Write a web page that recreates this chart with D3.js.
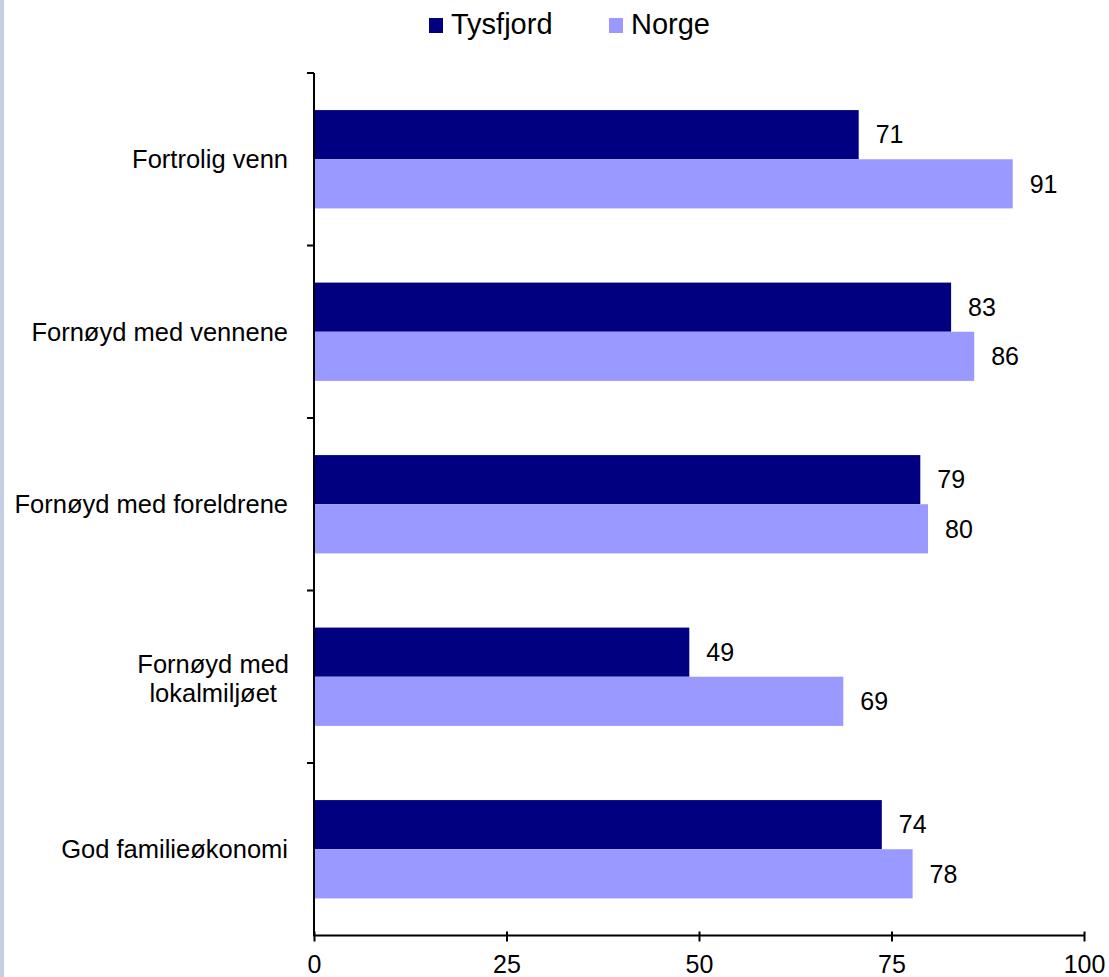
<!DOCTYPE html>
<html><head><meta charset="utf-8">
<script src="https://cdn.jsdelivr.net/npm/d3@7"></script>
<style>
html,body{margin:0;padding:0;background:#fff;}
svg text{font-family:"Liberation Sans",Arial,sans-serif;fill:#000;}
</style></head>
<body>
<svg id="chart" width="1109" height="977"></svg>
<script>
const categories = ["Fortrolig venn", "Fornøyd med vennene", "Fornøyd med foreldrene", "Fornøyd med\nlokalmiljøet", "God familieøkonomi"];
const seriesNames = ["Tysfjord", "Norge"];
const tysfjord = [71, 83, 79, 49, 74];
const norge = [91, 86, 80, 69, 78];
const xTicks = [0, 25, 50, 75, 100];
const colors = ["#000080", "#9999ff"];

const svg = d3.select("#chart");
svg.append("rect").attr("x",0).attr("y",0).attr("width",4).attr("height",977).attr("fill","#c3cfe2");

const x0 = 314, x1 = 1084, yTop = 73, yBot = 935.5;
const x = d3.scaleLinear().domain([0,100]).range([x0,x1]);
const y = d3.scaleBand().domain(categories).range([yTop,yBot]).paddingInner(0.43).paddingOuter(0.215);
const ySub = d3.scaleBand().domain(seriesNames).range([0,y.bandwidth()]);

const data = categories.map((c,i)=>({cat:c, vals:[{s:"Tysfjord",v:tysfjord[i]},{s:"Norge",v:norge[i]}]}));

const g = svg.append("g");
const grp = g.selectAll("g.cat").data(data).join("g").attr("transform",d=>`translate(0,${y(d.cat)})`);
grp.selectAll("rect").data(d=>d.vals).join("rect")
  .attr("x",x(0)+1).attr("y",d=>ySub(d.s)).attr("height",ySub.bandwidth())
  .attr("width",d=>x(d.v)-x(0)-3).attr("fill",(d,i)=>colors[i]);
grp.selectAll("text.val").data(d=>d.vals).join("text").attr("class","val")
  .attr("x",d=>x(d.v)+15).attr("y",d=>ySub(d.s)+ySub.bandwidth()/2)
  .attr("dy","0.35em").attr("font-size",25).text(d=>d.v);

// Y axis
g.append("line").attr("x1",x0).attr("x2",x0).attr("y1",yTop).attr("y2",yBot).attr("stroke","#000").attr("stroke-width",2);
const yTickPos = d3.range(categories.length+1).map(i=>yTop + i*y.step());
g.selectAll("line.yt").data(yTickPos.slice(0,-1)).join("line").attr("class","yt")
  .attr("x1",x0-7).attr("x2",x0).attr("y1",d=>d).attr("y2",d=>d).attr("stroke","#000").attr("stroke-width",2);

// category labels
categories.forEach(c=>{
  const cy = y(c)+y.bandwidth()/2;
  const lines = c.split("\n");
  if(lines.length===1){
    g.append("text").attr("x",288).attr("y",cy).attr("dy","0.35em").attr("text-anchor","end").attr("font-size",25.5).text(c);
  } else {
    const t1 = g.append("text").attr("font-size",25.5).attr("text-anchor","middle").text(lines[0]);
    const w = t1.node().getComputedTextLength();
    const cx = 289 - w/2;
    t1.attr("x",cx).attr("y",cy-4);
    g.append("text").attr("font-size",25.5).attr("text-anchor","middle").attr("x",cx).attr("y",cy+25).text(lines[1]);
  }
});

// X axis
const xAxis = d3.axisBottom(x).tickValues(xTicks).tickSize(6).tickSizeOuter(0).tickPadding(14);
const xa = g.append("g").attr("transform",`translate(0,${yBot})`).call(xAxis);
xa.select(".domain").attr("stroke","#000").attr("stroke-width",2).attr("d",`M${x0-1},0H${x1+1}`);
xa.selectAll(".tick line").attr("stroke","#000").attr("stroke-width",2).attr("y1",-4);
xa.selectAll(".tick text").attr("font-size",25).attr("font-family","'Liberation Sans',Arial,sans-serif").attr("fill","#000");

// Legend
const leg = svg.append("g");
const legX = [429, 609];
seriesNames.forEach((s,i)=>{
  leg.append("rect").attr("x",legX[i]).attr("y",18).attr("width",14).attr("height",15).attr("fill",colors[i]);
  leg.append("text").attr("x",legX[i]+22).attr("y",34).attr("font-size",29).text(s);
});
</script>
</body></html>
